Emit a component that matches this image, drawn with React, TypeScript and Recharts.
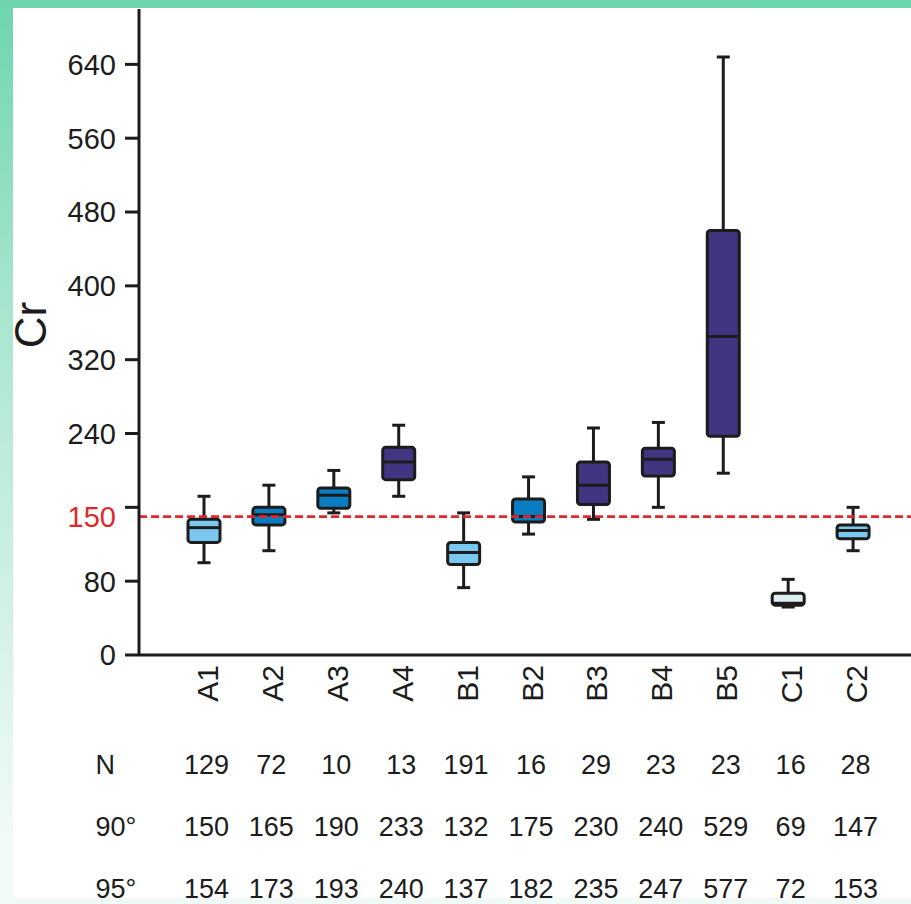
import { ComposedChart, Bar, Cell, XAxis, YAxis, ReferenceLine, Label } from 'recharts'

// box plot values
const categories = ['A1', 'A2', 'A3', 'A4', 'B1', 'B2', 'B3', 'B4', 'B5', 'C1', 'C2']
const whiskerLow = [100, 113, 154, 172, 73, 131, 147, 160, 197, 52, 113]
const q1 = [122, 141, 159, 190, 98, 144, 163, 194, 237, 54, 126]
const median = [138, 152, 173, 209, 111, 150, 184, 212, 345, 56, 135]
const q3 = [147, 160, 181, 225, 122, 169, 209, 224, 460, 67, 141]
const whiskerHigh = [172, 184, 200, 249, 154, 193, 246, 252, 648, 82, 160]

// table under the axis
const rowHeaders = ['N', '90°', '95°']
const sampleN = [129, 72, 10, 13, 191, 16, 29, 23, 23, 16, 28]
const pct90 = [150, 165, 190, 233, 132, 175, 230, 240, 529, 69, 147]
const pct95 = [154, 173, 193, 240, 137, 182, 235, 247, 577, 72, 153]

const yTicks = [0, 80, 160, 240, 320, 400, 480, 560, 640]
const yTickLabels = ['0', '80', '150', '240', '320', '400', '480', '560', '640']
const limitValue = 150

const W = 911
const H = 904
const TOP = 9
const AXIS_Y = 655
const Y_MAX = 700
const PX_PER_UNIT = (AXIS_Y - TOP) / Y_MAX
const ROW_OFFSETS = [109, 171, 233]

const ink = '#1c1c1c'
const red = '#e0282c'
const font = '"Liberation Sans", Arial, Helvetica, sans-serif'

const light = '#7ac7ef'
const mid = '#0a7cc2'
const dark = '#433482'
const pale = '#dfeeee'
const boxColors = [light, mid, mid, dark, light, mid, dark, dark, dark, pale, light]

const data = categories.map((name, i) => ({
  name,
  range: [whiskerLow[i], whiskerHigh[i]],
  low: whiskerLow[i],
  q1: q1[i],
  median: median[i],
  q3: q3[i],
  high: whiskerHigh[i],
}))

function BoxShape(props: any) {
  const { x, y, width, height, payload, fill } = props
  if (!payload) return null
  const top = Math.min(y, y + height)
  const h = Math.abs(height)
  const k = h / (payload.high - payload.low)
  const py = (v: number) => top + (payload.high - v) * k
  const cx = x + width / 2
  const cap = 13
  return (
    <g>
      <line x1={cx} x2={cx} y1={py(payload.high)} y2={py(payload.q3)} stroke={ink} strokeWidth={3} />
      <line x1={cx} x2={cx} y1={py(payload.q1)} y2={py(payload.low)} stroke={ink} strokeWidth={3} />
      <line x1={cx - cap / 2} x2={cx + cap / 2} y1={py(payload.high)} y2={py(payload.high)} stroke={ink} strokeWidth={3} />
      <line x1={cx - cap / 2} x2={cx + cap / 2} y1={py(payload.low)} y2={py(payload.low)} stroke={ink} strokeWidth={3} />
      <rect x={x} y={py(payload.q3)} width={width} height={py(payload.q1) - py(payload.q3)}
        rx={3} fill={fill} stroke={ink} strokeWidth={3} />
      <line x1={x} x2={x + width} y1={py(payload.median)} y2={py(payload.median)} stroke={ink} strokeWidth={3} />
    </g>
  )
}

function YTick({ x, y, payload }: any) {
  const i = yTicks.indexOf(payload.value)
  const label = yTickLabels[i]
  const isLimit = Number(label) === limitValue
  const shift = isLimit ? (payload.value - limitValue) * PX_PER_UNIT : 0
  return (
    <text x={x} y={y + shift} dy="0.36em" textAnchor="end" fontSize={29} fontFamily={font}
      fill={isLimit ? red : ink}>
      {label}
    </text>
  )
}

function XTick({ x, y, payload }: any) {
  const i = categories.indexOf(payload.value)
  const rows = [sampleN[i], pct90[i], pct95[i]]
  const ly = y + 10
  return (
    <g>
      <text x={x} y={ly} transform={`rotate(-90 ${x} ${ly})`} textAnchor="end" dy="0.45em"
        fontSize={30} fontFamily={font} fill={ink}>
        {payload.value}
      </text>
      {rows.map((v, r) => (
        <text key={r} x={x + 2} y={y + ROW_OFFSETS[r]} dy="0.36em" textAnchor="middle"
          fontSize={27} fontFamily={font} fill={ink}>
          {v}
        </text>
      ))}
      {i === 0 && rowHeaders.map((t, r) => (
        <text key={'h' + r} x={x - 109} y={y + ROW_OFFSETS[r]} dy="0.36em" textAnchor="start"
          fontSize={27} fontFamily={font} fill={ink}>
          {t}
        </text>
      ))}
    </g>
  )
}

function AxisTitle() {
  return (
    <text x={30} y={325} transform="rotate(-90 30 325)" textAnchor="middle" dy="0.36em"
      fontSize={44} fontFamily={font} fill={ink}>
      Cr
    </text>
  )
}

export default function App() {
  return (
    <div style={{
      position: 'absolute', left: 0, top: 0, width: W, height: H, overflow: 'hidden',
      background: 'linear-gradient(180deg, #6dd5ad 0%, #a9e6cf 35%, #f0faf6 92%)',
    }}>
      <div style={{ position: 'absolute', left: 13, top: 8, width: W - 13, height: 890, background: '#fff' }} />
      <div style={{ position: 'absolute', left: 0, top: 0 }}>
        <ComposedChart width={W} height={H} data={data} margin={{ top: TOP, right: 0, bottom: 0, left: 0 }}>
          <XAxis dataKey="name" type="category" interval={0} height={H - AXIS_Y}
            padding={{ left: 33, right: 25 }} tickLine={false} tickSize={0} tickMargin={0}
            axisLine={{ stroke: ink, strokeWidth: 3 }} tick={<XTick />} />
          <YAxis type="number" domain={[0, Y_MAX]} ticks={yTicks} width={139} interval={0}
            tickSize={14} tickMargin={9} allowDataOverflow
            axisLine={{ stroke: ink, strokeWidth: 3 }} tickLine={{ stroke: ink, strokeWidth: 3 }}
            tick={<YTick />}>
            <Label content={<AxisTitle />} />
          </YAxis>
          <ReferenceLine y={limitValue} stroke={red} strokeWidth={2.8} strokeDasharray="8 4" />
          <Bar dataKey="range" barSize={32} isAnimationActive={false} shape={<BoxShape />}>
            {data.map((d, i) => <Cell key={d.name} fill={boxColors[i]} />)}
          </Bar>
        </ComposedChart>
      </div>
    </div>
  )
}
